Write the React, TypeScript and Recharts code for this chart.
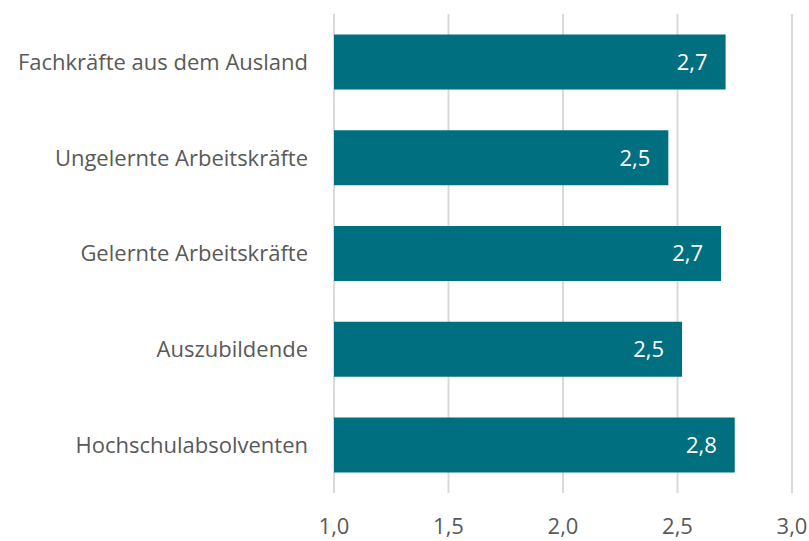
import React from "react";
import { BarChart, Bar, XAxis, YAxis, CartesianGrid, LabelList } from "recharts";

const categories = [
  "Fachkräfte aus dem Ausland",
  "Ungelernte Arbeitskräfte",
  "Gelernte Arbeitskräfte",
  "Auszubildende",
  "Hochschulabsolventen",
];
const values = [2.71, 2.46, 2.69, 2.52, 2.75];
const xTicks = [1, 1.5, 2, 2.5, 3];

const data = categories.map((name, i) => ({ name, value: values[i] }));

const fmt = (v: number) => v.toFixed(1).replace(".", ",");
const FONT = "'Segoe UI', 'Open Sans', 'Noto Sans', sans-serif";

export default function App() {
  return (
    <div style={{ position: "absolute", left: 0, top: 0, width: 809, height: 541, background: "#fff", fontFamily: FONT }}>
      <BarChart
        width={809}
        height={541}
        data={data}
        layout="vertical"
        margin={{ top: 14, right: 17, bottom: 0, left: 0 }}
        barCategoryGap="21.3%"
      >
        <CartesianGrid horizontal={false} stroke="#d9d9d9" strokeWidth={2} />
        <XAxis
          type="number"
          domain={[1, 3]}
          ticks={xTicks}
          tickFormatter={fmt}
          axisLine={false}
          tickLine={false}
          tickSize={0}
          tickMargin={25}
          height={48}
          interval={0}
          tick={{ fill: "#595959", fontSize: 22, fontFamily: FONT }}
        />
        <YAxis
          type="category"
          dataKey="name"
          width={334}
          axisLine={false}
          tickLine={false}
          tickSize={0}
          tickMargin={26}
          interval={0}
          tick={{ fill: "#595959", fontSize: 22, fontFamily: FONT }}
        />
        <Bar dataKey="value" fill="#006F80" isAnimationActive={false}>
          <LabelList
            dataKey="value"
            position="insideRight"
            offset={18}
            formatter={(v: any) => fmt(Number(v))}
            style={{ fill: "#ffffff", fontSize: 22, fontFamily: FONT }}
          />
        </Bar>
      </BarChart>
    </div>
  );
}
